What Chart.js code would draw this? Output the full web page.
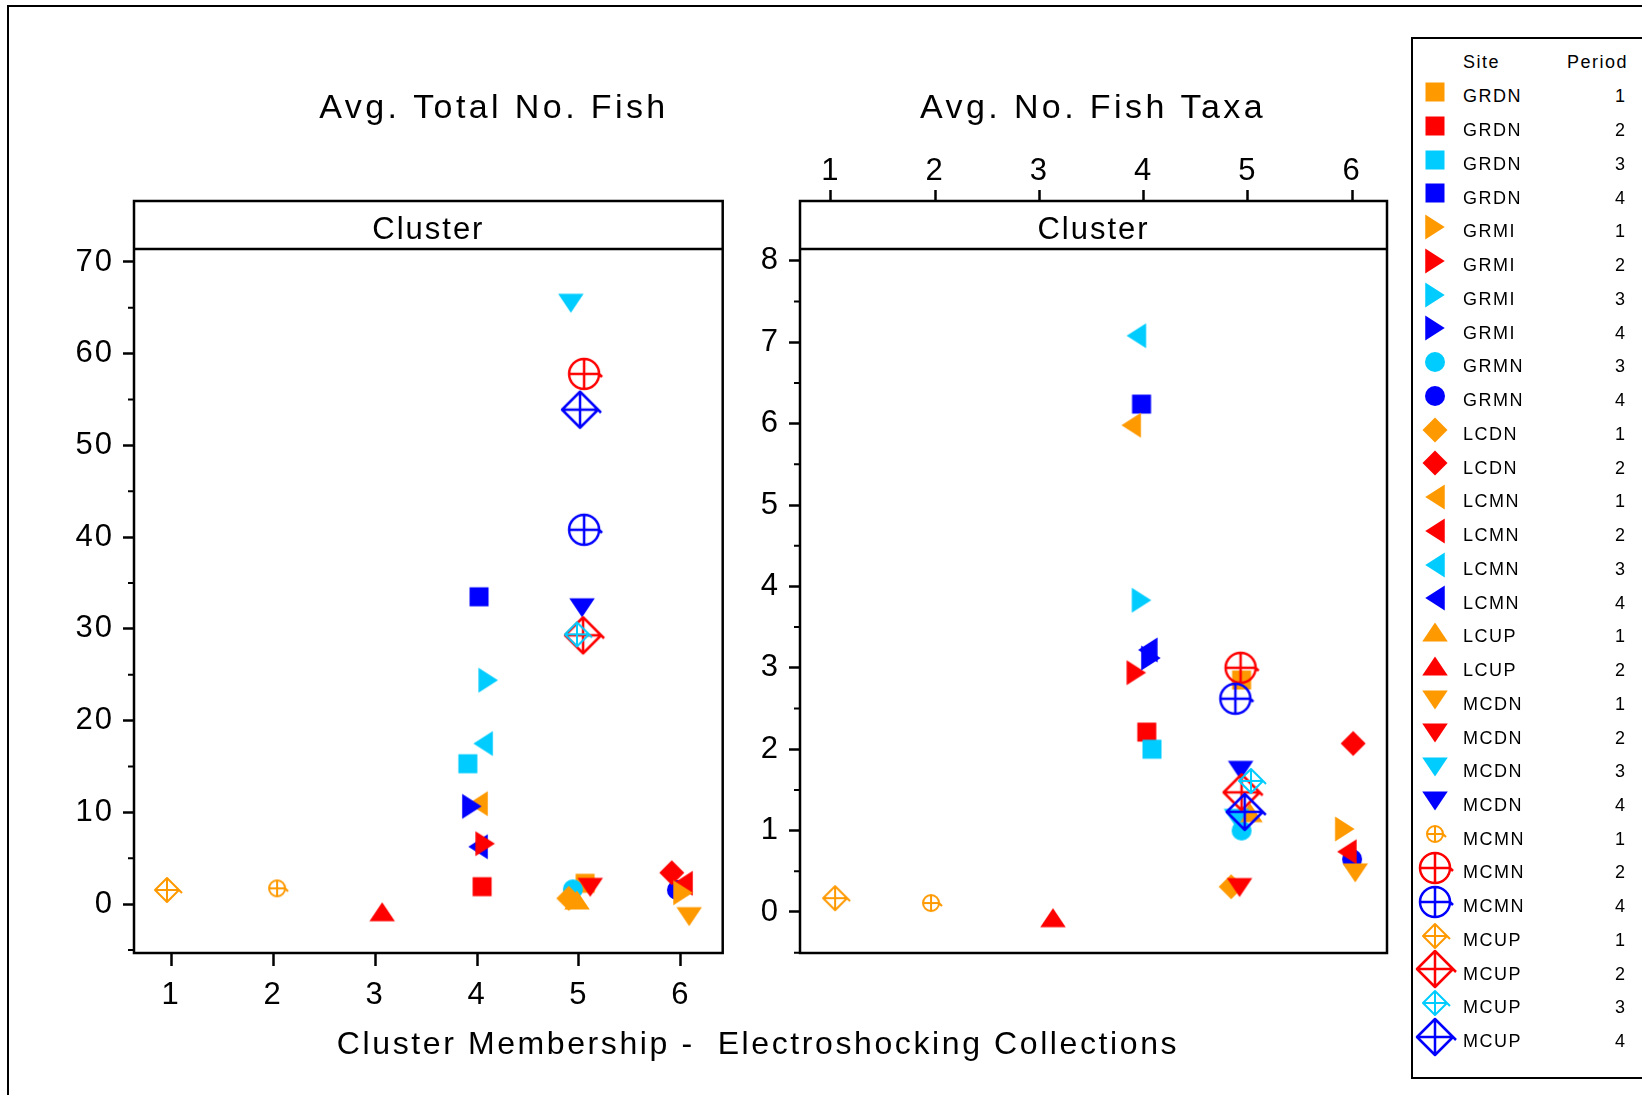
<!DOCTYPE html>
<html>
<head>
<meta charset="utf-8">
<title>Cluster Membership - Electroshocking Collections</title>
<script src="https://cdn.jsdelivr.net/npm/chart.js@4.4.1/dist/chart.umd.min.js"></script>
<style>
  html, body { margin: 0; padding: 0; background: #fff; }
  body { width: 1642px; height: 1095px; position: relative; overflow: hidden;
         font-family: "Liberation Sans", Arial, sans-serif; color: #000; }
  .frame { position: absolute; left: 7px; top: 5px; width: 2000px; height: 2000px;
           border-left: 2px solid #000; border-top: 2px solid #000; }
  #fishPlot { position: absolute; left: 0; top: 0; }
  #taxaPlot { position: absolute; left: 740px; top: 0; }
  #xTitle { position: absolute; left: 258px; width: 1000px; top: 1027px; text-align: center;
            font-size: 32px; line-height: 32px; letter-spacing: 2.6px; white-space: pre; }
  #legend { position: absolute; left: 1411px; top: 37px; width: 400px; height: 1042px;
            box-sizing: border-box; border: 2px solid #000; }
  #legend .txt { position: absolute; font-size: 18px; line-height: 18px; letter-spacing: 1.5px; white-space: pre; }
  #legend canvas { position: absolute; }
</style>
</head>
<body>
<div class="frame"></div>
<canvas id="fishPlot" width="740" height="1095"></canvas>
<canvas id="taxaPlot" width="660" height="1095"></canvas>
<div id="xTitle">Cluster Membership -  Electroshocking Collections</div>
<div id="legend"></div>
<script>
// one entry per site/period series, in legend order
const siteNames = ["GRDN", "GRDN", "GRDN", "GRDN", "GRMI", "GRMI", "GRMI", "GRMI", "GRMN", "GRMN",
  "LCDN", "LCDN", "LCMN", "LCMN", "LCMN", "LCMN", "LCUP", "LCUP", "MCDN", "MCDN", "MCDN", "MCDN",
  "MCMN", "MCMN", "MCMN", "MCUP", "MCUP", "MCUP", "MCUP"];
const periods = [1, 2, 3, 4, 1, 2, 3, 4, 3, 4, 1, 2, 1, 2, 3, 4, 1, 2, 1, 2, 3, 4, 1, 2, 4, 1, 2, 3, 4];

// Avg. Total No. Fish (cluster position is jittered around the cluster number)
const fishCluster = [5.06, 4.05, 3.91, 4.02, 6.02, 4.08, 4.11, 3.95, 4.94, 5.96,
  4.90, 5.91, 4.01, 6.02, 4.06, 4.01, 4.98, 3.07, 6.08, 5.11, 4.92, 5.03,
  2.04, 5.05, 5.05, 0.96, 5.04, 4.98, 5.01];
const fishTotal = [2.26, 1.89, 15.3, 33.5, 1.23, 6.58, 24.4, 10.65, 1.6, 1.53,
  0.62, 3.41, 10.94, 2.26, 17.5, 6.25, 0.44, -0.84, -1.38, 1.82, 65.5, 32.3,
  1.71, 57.8, 40.8, 1.53, 29.3, 29.4, 53.9];

// Avg. No. Fish Taxa
const taxaCluster = [4.94, 4.03, 4.08, 3.98, 5.93, 3.93, 3.98, 4.07, 4.94, 6.00,
  4.84, 6.01, 3.88, 5.95, 3.93, 4.04, 5.02, 3.13, 6.03, 4.92, 4.89, 4.93,
  1.96, 4.93, 4.88, 1.04, 4.94, 5.03, 4.97];
const taxaCount = [2.85, 2.21, 2.00, 6.24, 1.02, 2.94, 3.83, 3.12, 1.00, 0.65,
  0.31, 2.07, 5.98, 0.74, 7.08, 3.22, 1.22, -0.07, 0.48, 0.30, 1.15, 1.74,
  0.11, 3.00, 2.62, 0.17, 1.47, 1.61, 1.23];

const clusterTicks = [1, 2, 3, 4, 5, 6];
const fishTicks = [0, 10, 20, 30, 40, 50, 60, 70];
const taxaTicks = [0, 1, 2, 3, 4, 5, 6, 7, 8];

const periodColors = { 1: "#FF9900", 2: "#FF0000", 3: "#00CCFF", 4: "#0000FF" };
const siteSymbols = { GRDN: "square", GRMI: "right", GRMN: "circle", LCDN: "diamond", LCMN: "left",
  LCUP: "up", MCDN: "down", MCMN: "ringPlus", MCUP: "diamondPlus" };
// later entries are painted over earlier ones
const layerRank = ["GRDN", "GRMN", "LCDN", "LCMN", "GRMI", "LCUP", "MCDN", "MCMN", "MCUP"];

const FONT = '"Liberation Sans", Arial, sans-serif';
Chart.defaults.font.family = FONT;
Chart.defaults.color = "#000";

function poly(ctx, pts) {
  ctx.moveTo(pts[0][0], pts[0][1]);
  for (let i = 1; i < pts.length; i++) ctx.lineTo(pts[i][0], pts[i][1]);
  ctx.closePath();
}

function makeMarker(site, period) {
  const c = document.createElement("canvas");
  c.width = c.height = 48;
  const ctx = c.getContext("2d");
  const m = 24;
  const big = period === 2 || period === 4;
  ctx.fillStyle = ctx.strokeStyle = periodColors[period];
  ctx.lineJoin = "round";
  ctx.beginPath();
  switch (siteSymbols[site]) {
    case "square":
      ctx.rect(m - 9.5, m - 9.5, 19, 19); ctx.fill(); break;
    case "circle":
      ctx.arc(m, m, 10, 0, 2 * Math.PI); ctx.fill(); break;
    case "diamond":
      poly(ctx, [[m, m - 12.5], [m + 12.5, m], [m, m + 12.5], [m - 12.5, m]]); ctx.fill(); break;
    case "right":
      poly(ctx, [[m - 9.75, m - 12.5], [m + 9.75, m], [m - 9.75, m + 12.5]]); ctx.fill(); break;
    case "left":
      poly(ctx, [[m + 9.75, m - 12.5], [m - 9.75, m], [m + 9.75, m + 12.5]]); ctx.fill(); break;
    case "up":
      poly(ctx, [[m, m - 9.5], [m + 12.75, m + 9.5], [m - 12.75, m + 9.5]]); ctx.fill(); break;
    case "down":
      poly(ctx, [[m - 12.75, m - 9.5], [m + 12.75, m - 9.5], [m, m + 9.5]]); ctx.fill(); break;
    case "ringPlus": {
      const r = big ? 15 : 8;
      ctx.lineWidth = big ? 2.5 : 2;
      ctx.arc(m, m, r, 0, 2 * Math.PI);
      ctx.moveTo(m - r, m); ctx.lineTo(m + r, m);
      ctx.moveTo(m, m - r); ctx.lineTo(m, m + r);
      ctx.moveTo(m + r, m); ctx.lineTo(m + r + 3, m + 3);
      ctx.stroke(); break;
    }
    case "diamondPlus": {
      const h = big ? 18 : 12;
      ctx.lineWidth = big ? 2.5 : 2;
      poly(ctx, [[m, m - h], [m + h, m], [m, m + h], [m - h, m]]);
      ctx.moveTo(m - h, m); ctx.lineTo(m + h, m);
      ctx.moveTo(m, m - h); ctx.lineTo(m, m + h);
      ctx.moveTo(m + h, m); ctx.lineTo(m + h + 3, m + 3);
      ctx.stroke(); break;
    }
  }
  return c;
}

// plot box, "Cluster" strip, minor ticks and panel title
const panelFrame = {
  id: "panelFrame",
  beforeDraw(chart) {
    chart.ctx.letterSpacing = "2px";
  },
  afterDraw(chart, args, opts) {
    const { ctx, chartArea: a } = chart;
    const yScale = chart.scales.y;
    const stripBottom = a.top + opts.stripHeight;
    ctx.save();
    ctx.strokeStyle = "#000";
    ctx.fillStyle = "#000";
    ctx.lineWidth = 2.5;
    ctx.strokeRect(a.left, a.top, a.right - a.left, a.bottom - a.top);
    ctx.beginPath();
    ctx.moveTo(a.left, stripBottom);
    ctx.lineTo(a.right, stripBottom);
    ctx.stroke();

    ctx.lineWidth = 2;
    ctx.beginPath();
    const step = opts.minorStep;
    for (let v = Math.ceil(yScale.min / step) * step; v <= yScale.max; v += step) {
      const half = v / (2 * step);
      if (Math.abs(half - Math.round(half)) < 1e-6) continue;
      const py = yScale.getPixelForValue(v);
      if (py < stripBottom + 4) continue;
      ctx.moveTo(a.left - 6, py);
      ctx.lineTo(a.left, py);
    }
    ctx.stroke();

    ctx.textAlign = "center";
    ctx.textBaseline = "alphabetic";
    ctx.font = "31px " + FONT;
    ctx.letterSpacing = "2px";
    ctx.fillText("Cluster", (a.left + a.right) / 2, stripBottom - 10);
    ctx.font = "34px " + FONT;
    ctx.letterSpacing = "3.4px";
    ctx.fillText(opts.title, opts.titleX, 118);
    ctx.restore();
  },
};

function panelChart(canvasId, xs, ys, cfg) {
  const datasets = siteNames.map((site, i) => ({
    label: site + " " + periods[i],
    data: [{ x: xs[i], y: ys[i] }],
    pointStyle: makeMarker(site, periods[i]),
    pointRadius: 12,
    order: -(layerRank.indexOf(site) * 10 + periods[i]),
  }));
  const tickFont = { family: FONT, size: 31 };
  return new Chart(document.getElementById(canvasId), {
    type: "scatter",
    data: { datasets },
    plugins: [panelFrame],
    options: {
      responsive: false,
      animation: false,
      events: [],
      layout: { padding: cfg.padding },
      plugins: {
        legend: { display: false },
        tooltip: { enabled: false },
        panelFrame: { title: cfg.title, titleX: cfg.titleX, stripHeight: 48, minorStep: cfg.minorStep },
      },
      scales: {
        x: {
          type: "linear",
          position: cfg.xPosition,
          min: cfg.xMin,
          max: cfg.xMax,
          afterBuildTicks: (axis) => { axis.ticks = clusterTicks.map((v) => ({ value: v })); },
          afterFit: (axis) => { axis.height = cfg.xAxisHeight; },
          grid: { drawOnChartArea: false, tickLength: cfg.xTickLength, tickWidth: 2.5, tickColor: "#000" },
          border: { display: false },
          ticks: { font: tickFont, padding: cfg.xTickPadding, maxRotation: 0 },
        },
        y: {
          type: "linear",
          min: cfg.yMin,
          max: cfg.yMax,
          afterBuildTicks: (axis) => { axis.ticks = cfg.yTicks.map((v) => ({ value: v })); },
          afterFit: (axis) => { axis.width = cfg.yAxisWidth; },
          grid: { drawOnChartArea: false, tickLength: 11, tickWidth: 2.5, tickColor: "#000" },
          border: { display: false },
          ticks: { font: tickFont, padding: 9 },
        },
      },
    },
  });
}

panelChart("fishPlot", fishCluster, fishTotal, {
  title: "Avg. Total No. Fish",
  titleX: 494,
  xPosition: "bottom",
  xMin: 0.637, xMax: 6.409,
  yMin: -5.34, yMax: 76.65,
  yTicks: fishTicks,
  minorStep: 5,
  padding: { left: 0, right: 17.3, top: 201, bottom: 0 },
  xAxisHeight: 142,
  yAxisWidth: 134,
  xTickLength: 13,
  xTickPadding: 11,
});

panelChart("taxaPlot", taxaCluster, taxaCount, {
  title: "Avg. No. Fish Taxa",
  titleX: 353,
  xPosition: "top",
  xMin: 0.703, xMax: 6.335,
  yMin: -0.504, yMax: 8.735,
  yTicks: taxaTicks,
  minorStep: 0.5,
  padding: { left: 0, right: 12, top: 0, bottom: 142 },
  xAxisHeight: 201,
  yAxisWidth: 60,
  xTickLength: 11,
  xTickPadding: 0,
});

// legend: symbol, site, period
const legend = document.getElementById("legend");
const ROW = 33.74;
function addText(text, left, baseline, width, align) {
  const d = document.createElement("div");
  d.className = "txt";
  d.textContent = text;
  d.style.left = left + "px";
  d.style.top = (baseline - 15.24) + "px";
  if (width) { d.style.width = width + "px"; d.style.textAlign = align; }
  legend.appendChild(d);
}
addText("Site", 50, 29.2);
addText("Period", 130, 29.2, 85, "right");
siteNames.forEach((site, i) => {
  const mk = makeMarker(site, periods[i]);
  mk.style.left = (22 - 24) + "px";
  mk.style.top = (53.2 + i * ROW - 24) + "px";
  legend.appendChild(mk);
  addText(site, 50, 63.7 + i * ROW);
  addText(String(periods[i]), 150, 63.7 + i * ROW, 63.5, "right");
});
</script>
</body>
</html>
